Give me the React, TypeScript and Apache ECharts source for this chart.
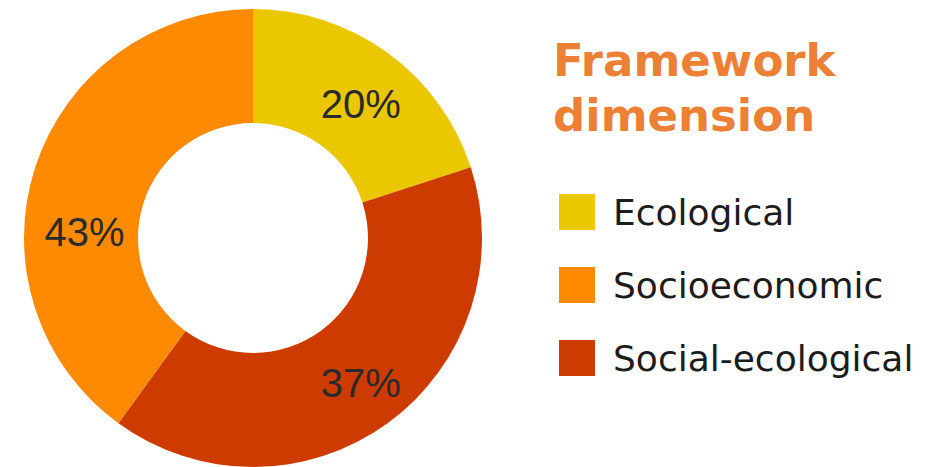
import React, { useEffect, useRef } from "react";
import * as echarts from "echarts";

// legend order
const categories = ["Ecological", "Socioeconomic", "Social-ecological"];
const colors = ["#EBC700", "#FD8A00", "#CD3B00"];

// pie order (clockwise from 12 o'clock)
const pieNames = ["Ecological", "Social-ecological", "Socioeconomic"];
// slice sizes as drawn (angles)
const sliceValues = [20, 40, 40];
// percentage labels as printed on the picture
const labelTexts = ["20%", "37%", "43%"];

const titleText = "Framework\ndimension";

const labelShift = [
  [5, 8],
  [5, 3],
  [-2, 48],
];

export default function App() {
  const ref = useRef<HTMLDivElement>(null);
  useEffect(() => {
    if (!ref.current) return;
    const chart = echarts.init(ref.current, null, { renderer: "svg" });
    chart.setOption({
      animation: false,
      backgroundColor: "#ffffff",
      title: {
        text: titleText,
        left: 553,
        top: 33,
        padding: 0,
        textStyle: {
          fontFamily: "DejaVu Sans",
          fontWeight: "bold",
          fontSize: 45,
          lineHeight: 55,
          color: "#EC8035",
        },
      },
      legend: {
        orient: "vertical",
        left: 559,
        top: 194,
        padding: 0,
        itemWidth: 36,
        itemHeight: 36,
        itemGap: 37,
        icon: "rect",
        selectedMode: false,
        data: categories,
        textStyle: {
          fontFamily: "DejaVu Sans",
          fontSize: 36,
          color: "#1c1c1c",
          padding: [0, 0, 0, 13],
        },
      },
      series: [
        {
          type: "pie",
          center: [253, 238],
          radius: [115, 229],
          startAngle: 90,
          clockwise: true,
          avoidLabelOverlap: false,
          silent: true,
          label: {
            show: true,
            position: "inside",
            fontFamily: "Liberation Sans, Arial, sans-serif",
            fontSize: 40,
            color: "#2a2a2a",
            formatter: (p: any) => labelTexts[p.dataIndex],
          },
          labelLine: { show: false },
          labelLayout: (p: any) => ({
            dx: labelShift[p.dataIndex][0],
            dy: labelShift[p.dataIndex][1],
          }),
          itemStyle: { borderWidth: 0 },
          data: pieNames.map((name, i) => ({
            name,
            value: sliceValues[i],
            itemStyle: { color: colors[categories.indexOf(name)] },
          })),
        },
      ],
    });
    return () => chart.dispose();
  }, []);
  return (
    <div
      ref={ref}
      style={{ position: "absolute", left: 0, top: 0, width: 940, height: 467 }}
    />
  );
}
